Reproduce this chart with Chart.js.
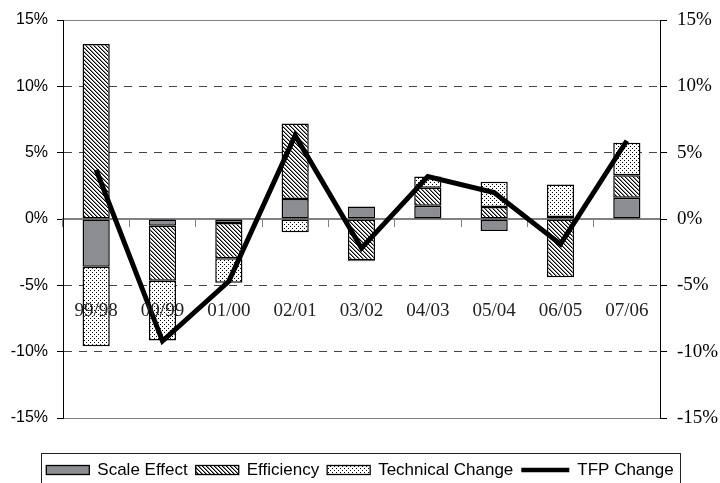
<!DOCTYPE html>
<html><head><meta charset="utf-8">
<script src="https://cdn.jsdelivr.net/npm/chart.js@4"></script>
<style>html,body{margin:0;padding:0;background:#fff}</style>
</head><body>
<canvas id="c" width="720" height="483"></canvas>
<script>
const categories = ['99/98','00/99','01/00','02/01','03/02','04/03','05/04','06/05','07/06'];
const scaleEffect = [-3.6, -0.5, -0.3, 1.5, 0.95, 1.0, -0.9, 0.15, 1.6];
const efficiency = [13.2, -4.15, -2.65, 5.7, -3.1, 1.35, 0.9, -4.4, 1.7];
const technicalChange = [-6.0, -4.5, -1.85, -1.0, -0.08, 0.85, 1.9, 2.45, 2.45];
const tfpChange = [3.7, -9.2, -4.7, 6.3, -2.2, 3.2, 2.0, -1.9, 5.9];
const yTicks = [-15, -10, -5, 0, 5, 10, 15];
const seriesNames = ['Scale Effect', 'Efficiency', 'Technical Change', 'TFP Change'];

const SANS = '"Liberation Sans", Arial, sans-serif';
const SERIF = '"Liberation Serif", "Times New Roman", serif';

function makePattern(w, h, pixels) {
  const cv = document.createElement('canvas');
  cv.width = w; cv.height = h;
  const g = cv.getContext('2d');
  g.fillStyle = '#fff';
  g.fillRect(0, 0, w, h);
  pixels.forEach(p => { g.fillStyle = p[2]; g.fillRect(p[0], p[1], 1, 1); });
  return g.createPattern(cv, 'repeat');
}
const hatch = makePattern(4, 4, [
  [0,0,'#000'],[1,1,'#000'],[2,2,'#000'],[3,3,'#000'],
  [1,0,'#888'],[2,1,'#888'],[3,2,'#888'],[0,3,'#888']
]);
const dots = makePattern(4, 4, [[0,0,'#000'],[2,2,'#000']]);
const scaleGrey = '#8c8d90';

function noPad(s) { s.paddingLeft = 0; s.paddingRight = 0; s.paddingTop = 0; s.paddingBottom = 0; }

const legendPlugin = {
  id: 'boxLegend',
  afterDraw(chart) {
    const ctx = chart.ctx;
    ctx.save();
    ctx.font = '17px ' + SANS;
    ctx.textBaseline = 'middle';
    const boxW = 43, boxH = 9, lineW = 48, gap = 8;
    const fills = [scaleGrey, hatch, dots, null];
    const widths = seriesNames.map((t, i) => (i === 3 ? lineW : boxW) + gap + ctx.measureText(t).width);
    const total = widths.reduce((a, b) => a + b, 0) + gap * (seriesNames.length - 1);
    let x = chart.width / 2 - total / 2;
    const start = x;
    const cy = 470;
    seriesNames.forEach((t, i) => {
      if (i === 3) {
        ctx.strokeStyle = '#000';
        ctx.lineWidth = 4.5;
        ctx.beginPath(); ctx.moveTo(x, cy); ctx.lineTo(x + lineW, cy); ctx.stroke();
        x += lineW + gap;
      } else {
        ctx.fillStyle = fills[i];
        ctx.fillRect(x, cy - boxH / 2, boxW, boxH);
        ctx.strokeStyle = '#000';
        ctx.lineWidth = 1.3;
        ctx.strokeRect(x, cy - boxH / 2, boxW, boxH);
        x += boxW + gap;
      }
      ctx.fillStyle = '#000';
      ctx.fillText(t, x, cy);
      x += ctx.measureText(t).width + gap;
    });
    const end = x - gap;
    ctx.strokeStyle = '#222';
    ctx.lineWidth = 1;
    ctx.strokeRect(Math.round(start - 5) + 0.5, 453.5, Math.round(end - start + 12), 40);
    ctx.restore();
  }
};

const barCommon = {
  type: 'bar', yAxisID: 'y', stack: 'parts', order: 1,
  borderColor: '#000', borderWidth: 1.5, borderSkipped: false,
  barPercentage: 0.41, categoryPercentage: 1.0
};

new Chart(document.getElementById('c'), {
  data: {
    labels: categories,
    datasets: [
      Object.assign({}, barCommon, { label: seriesNames[0], data: scaleEffect, backgroundColor: scaleGrey }),
      Object.assign({}, barCommon, { label: seriesNames[1], data: efficiency, backgroundColor: hatch }),
      Object.assign({}, barCommon, { label: seriesNames[2], data: technicalChange, backgroundColor: dots }),
      { type: 'line', label: seriesNames[3], data: tfpChange, yAxisID: 'y', stack: 'tfp', order: 0,
        borderColor: '#000', borderWidth: 5, pointRadius: 0, pointHoverRadius: 0, tension: 0,
        fill: false, borderJoinStyle: 'miter' }
    ]
  },
  options: {
    responsive: false,
    devicePixelRatio: 1,
    animation: false,
    layout: { padding: { left: 0, right: 0, top: 20, bottom: 65 } },
    plugins: { legend: { display: false }, tooltip: { enabled: false } },
    scales: {
      x: {
        type: 'category',
        position: { y: 0 },
        stacked: true,
        offset: true,
        afterFit: noPad,
        grid: { drawOnChartArea: false, drawTicks: true, tickLength: 7, color: '#808080', offset: true, lineWidth: 1 },
        border: { display: true, color: '#808080', width: 2 },
        ticks: { z: 1, font: { family: SERIF, size: 19 }, color: '#222', padding: 74, maxRotation: 0, autoSkip: false }
      },
      y: {
        position: 'left',
        stacked: true,
        min: -15, max: 15,
        afterBuildTicks: s => { s.ticks = yTicks.map(v => ({ value: v })); },
        afterFit: s => { s.width = 63; noPad(s); },
        grid: {
          color: c => {
            const v = c.tick ? c.tick.value : 0;
            if (Math.abs(v) === 15) return '#808080';
            if (v === 0) return 'rgba(0,0,0,0)';
            return '#444';
          },
          tickColor: '#000', tickLength: 6, lineWidth: 1
        },
        border: {
          display: true, color: '#000', width: 1,
          dash: c => (c.tick && (Math.abs(c.tick.value) === 5 || Math.abs(c.tick.value) === 10)) ? [8, 7] : []
        },
        ticks: { font: { family: SANS, size: 16 }, color: '#000', padding: 9, callback: v => v + '%' }
      },
      y2: {
        position: 'right',
        min: -15, max: 15,
        afterBuildTicks: s => { s.ticks = yTicks.map(v => ({ value: v })); },
        afterFit: s => { s.width = 60; noPad(s); },
        grid: { drawOnChartArea: false, tickColor: '#000', tickLength: 7 },
        border: { display: true, color: '#000', width: 1 },
        ticks: { font: { family: SERIF, size: 19 }, color: '#000', padding: 10, callback: v => v + '%' }
      }
    }
  },
  plugins: [legendPlugin]
});
</script>
</body></html>
